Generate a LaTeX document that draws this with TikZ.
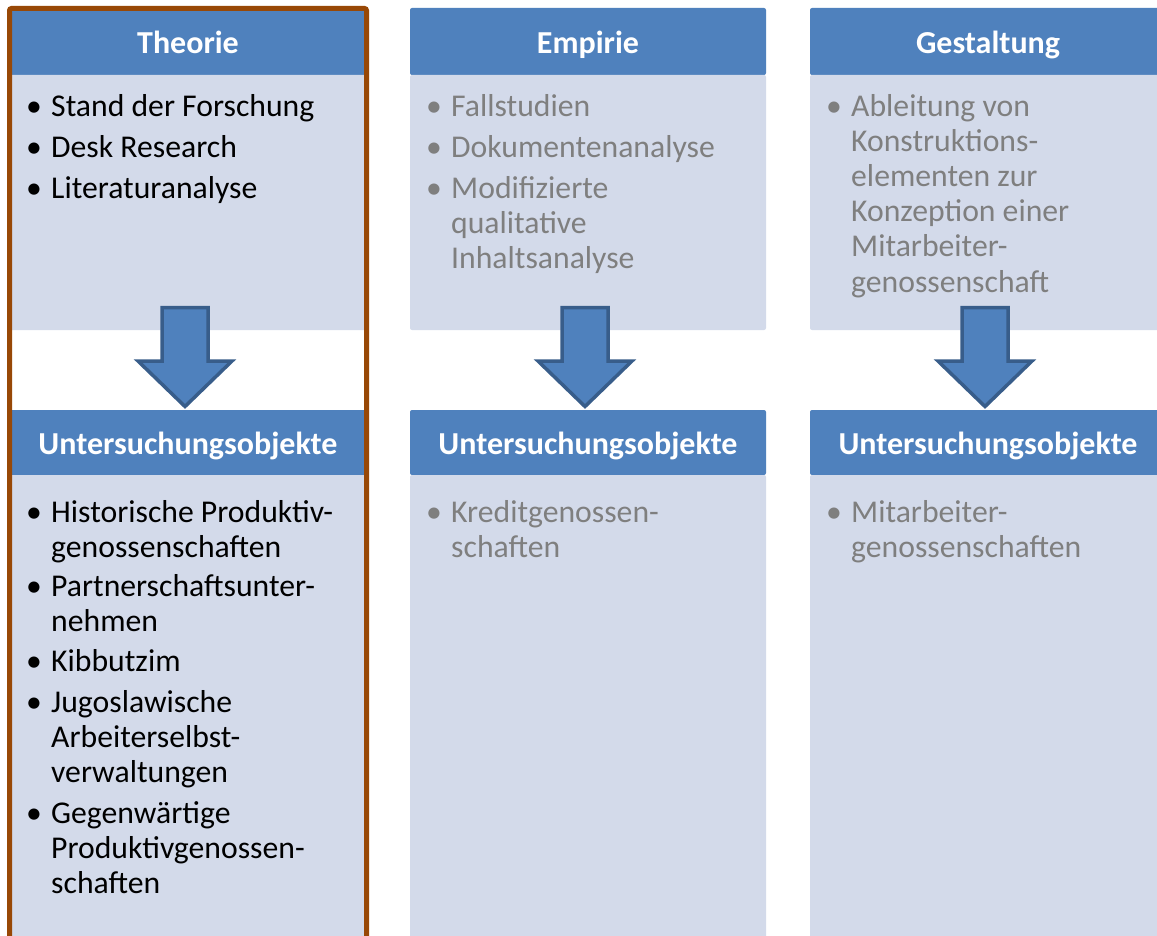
\documentclass[tikz,border=0pt]{standalone}
\usepackage{fontspec}
\setmainfont{Carlito}
\definecolor{hdr}{RGB}{79,129,189}
\definecolor{bdy}{RGB}{211,218,234}
\definecolor{txtgray}{RGB}{127,127,127}
\definecolor{arrline}{RGB}{56,93,138}
\definecolor{brownb}{RGB}{152,72,6}
\begin{document}
\begin{tikzpicture}[x=1pt,y=-1pt,
  boxbase/.style={draw=none, inner sep=0, outer sep=0, anchor=north west, minimum width=356pt, rounded corners=2pt},
  hdrbox/.style={boxbase, fill=hdr},
  bdybox/.style={boxbase, fill=bdy},
  hdrtext/.style={anchor=base, inner sep=0, text=white, font=\fontsize{32}{38}\selectfont\bfseries},
  itemtext/.style={anchor=base west, inner sep=0, font=\fontsize{31.7}{38}\selectfont},
  bul/.style={anchor=base, inner sep=0, font=\fontsize{31.7}{38}\selectfont},
  graytext/.style={text=txtgray},
  bigarrow/.style={fill=hdr, draw=arrline, line width=3.5pt, line join=miter}]
\useasboundingbox (0,0) rectangle (1157,936);
\clip (0,0) rectangle (1157,936);
\fill[white] (0,0) rectangle (1157,936);

% boxes
\foreach \c/\x in {1/10,2/410,3/810}{
  \node[hdrbox, minimum height=67pt] (h\c) at (\x,8) {};
  \node[bdybox, minimum height=255pt] (b\c) at (\x,75) {};
  \node[hdrbox, minimum height=65pt] (u\c) at (\x,410) {};
  \node[bdybox, minimum height=480pt] (v\c) at (\x,475) {};
}

% header titles
\node[hdrtext] (t1) at (188,54) {Theorie};
\node[hdrtext] (t2) at (588,54) {Empirie};
\node[hdrtext] (t3) at (988,54) {Gestaltung};
\foreach \c/\x in {1/188,2/588,3/988}{
  \node[hdrtext] (ut\c) at (\x,454) {Untersuchungsobjekte};
}

% arrows
\foreach \c/\cx in {1/185,2/585,3/985}{
  \draw[bigarrow] (\cx-23,307.5) -- (\cx+23,307.5) -- (\cx+23,361) -- (\cx+47,361)
    -- (\cx,406.5) -- (\cx-47,361) -- (\cx-23,361) -- cycle;
}

% column 1 top
\foreach \y/\t [count=\i] in {117/Stand der Forschung,158/Desk Research,199/Literaturanalyse}{
  \node[itemtext] (a\i) at (51,\y) {\t};
  \node[bul] (ab\i) at (34,\y) {•};
}
% column 2 top
\foreach \y/\t [count=\i] in {117/Fallstudien,158/Dokumentenanalyse,199/Modifizierte,234/qualitative,269/Inhaltsanalyse}{
  \node[itemtext, graytext] (b\i) at (451,\y) {\t};
}
\foreach \y [count=\i] in {117,158,199}{
  \node[bul, graytext] (bb\i) at (434,\y) {•};
}
% column 3 top
\foreach \y/\t [count=\i] in {117/Ableitung von,152/Konstruktions-,187/elementen zur,222/Konzeption einer,257/Mitarbeiter-,292/genossenschaft}{
  \node[itemtext, graytext] (c\i) at (851,\y) {\t};
}
\node[bul, graytext] (cb1) at (834,117) {•};

% column 1 bottom
\foreach \y/\t [count=\i] in {522/Historische Produktiv-,557/genossenschaften,596/Partnerschaftsunter-,631/nehmen,671/Kibbutzim,712/Jugoslawische,747/Arbeiterselbst-,782/verwaltungen,823/Gegenwärtige,858/Produktivgenossen-,893/schaften}{
  \node[itemtext] (d\i) at (51,\y) {\t};
}
\foreach \y [count=\i] in {522,596,671,712,823}{
  \node[bul] (db\i) at (34,\y) {•};
}
% column 2 bottom
\node[itemtext, graytext] (e1) at (451,522) {Kreditgenossen-};
\node[itemtext, graytext] (e2) at (451,557) {schaften};
\node[bul, graytext] (eb1) at (434,522) {•};
% column 3 bottom
\node[itemtext, graytext] (f1) at (851,522) {Mitarbeiter-};
\node[itemtext, graytext] (f2) at (851,557) {genossenschaften};
\node[bul, graytext] (fb1) at (834,522) {•};

% brown frame round column 1
\draw[brownb, line width=5pt, rounded corners=2pt] (9.5,8.5) rectangle (366.5,950);
\end{tikzpicture}
\end{document}
